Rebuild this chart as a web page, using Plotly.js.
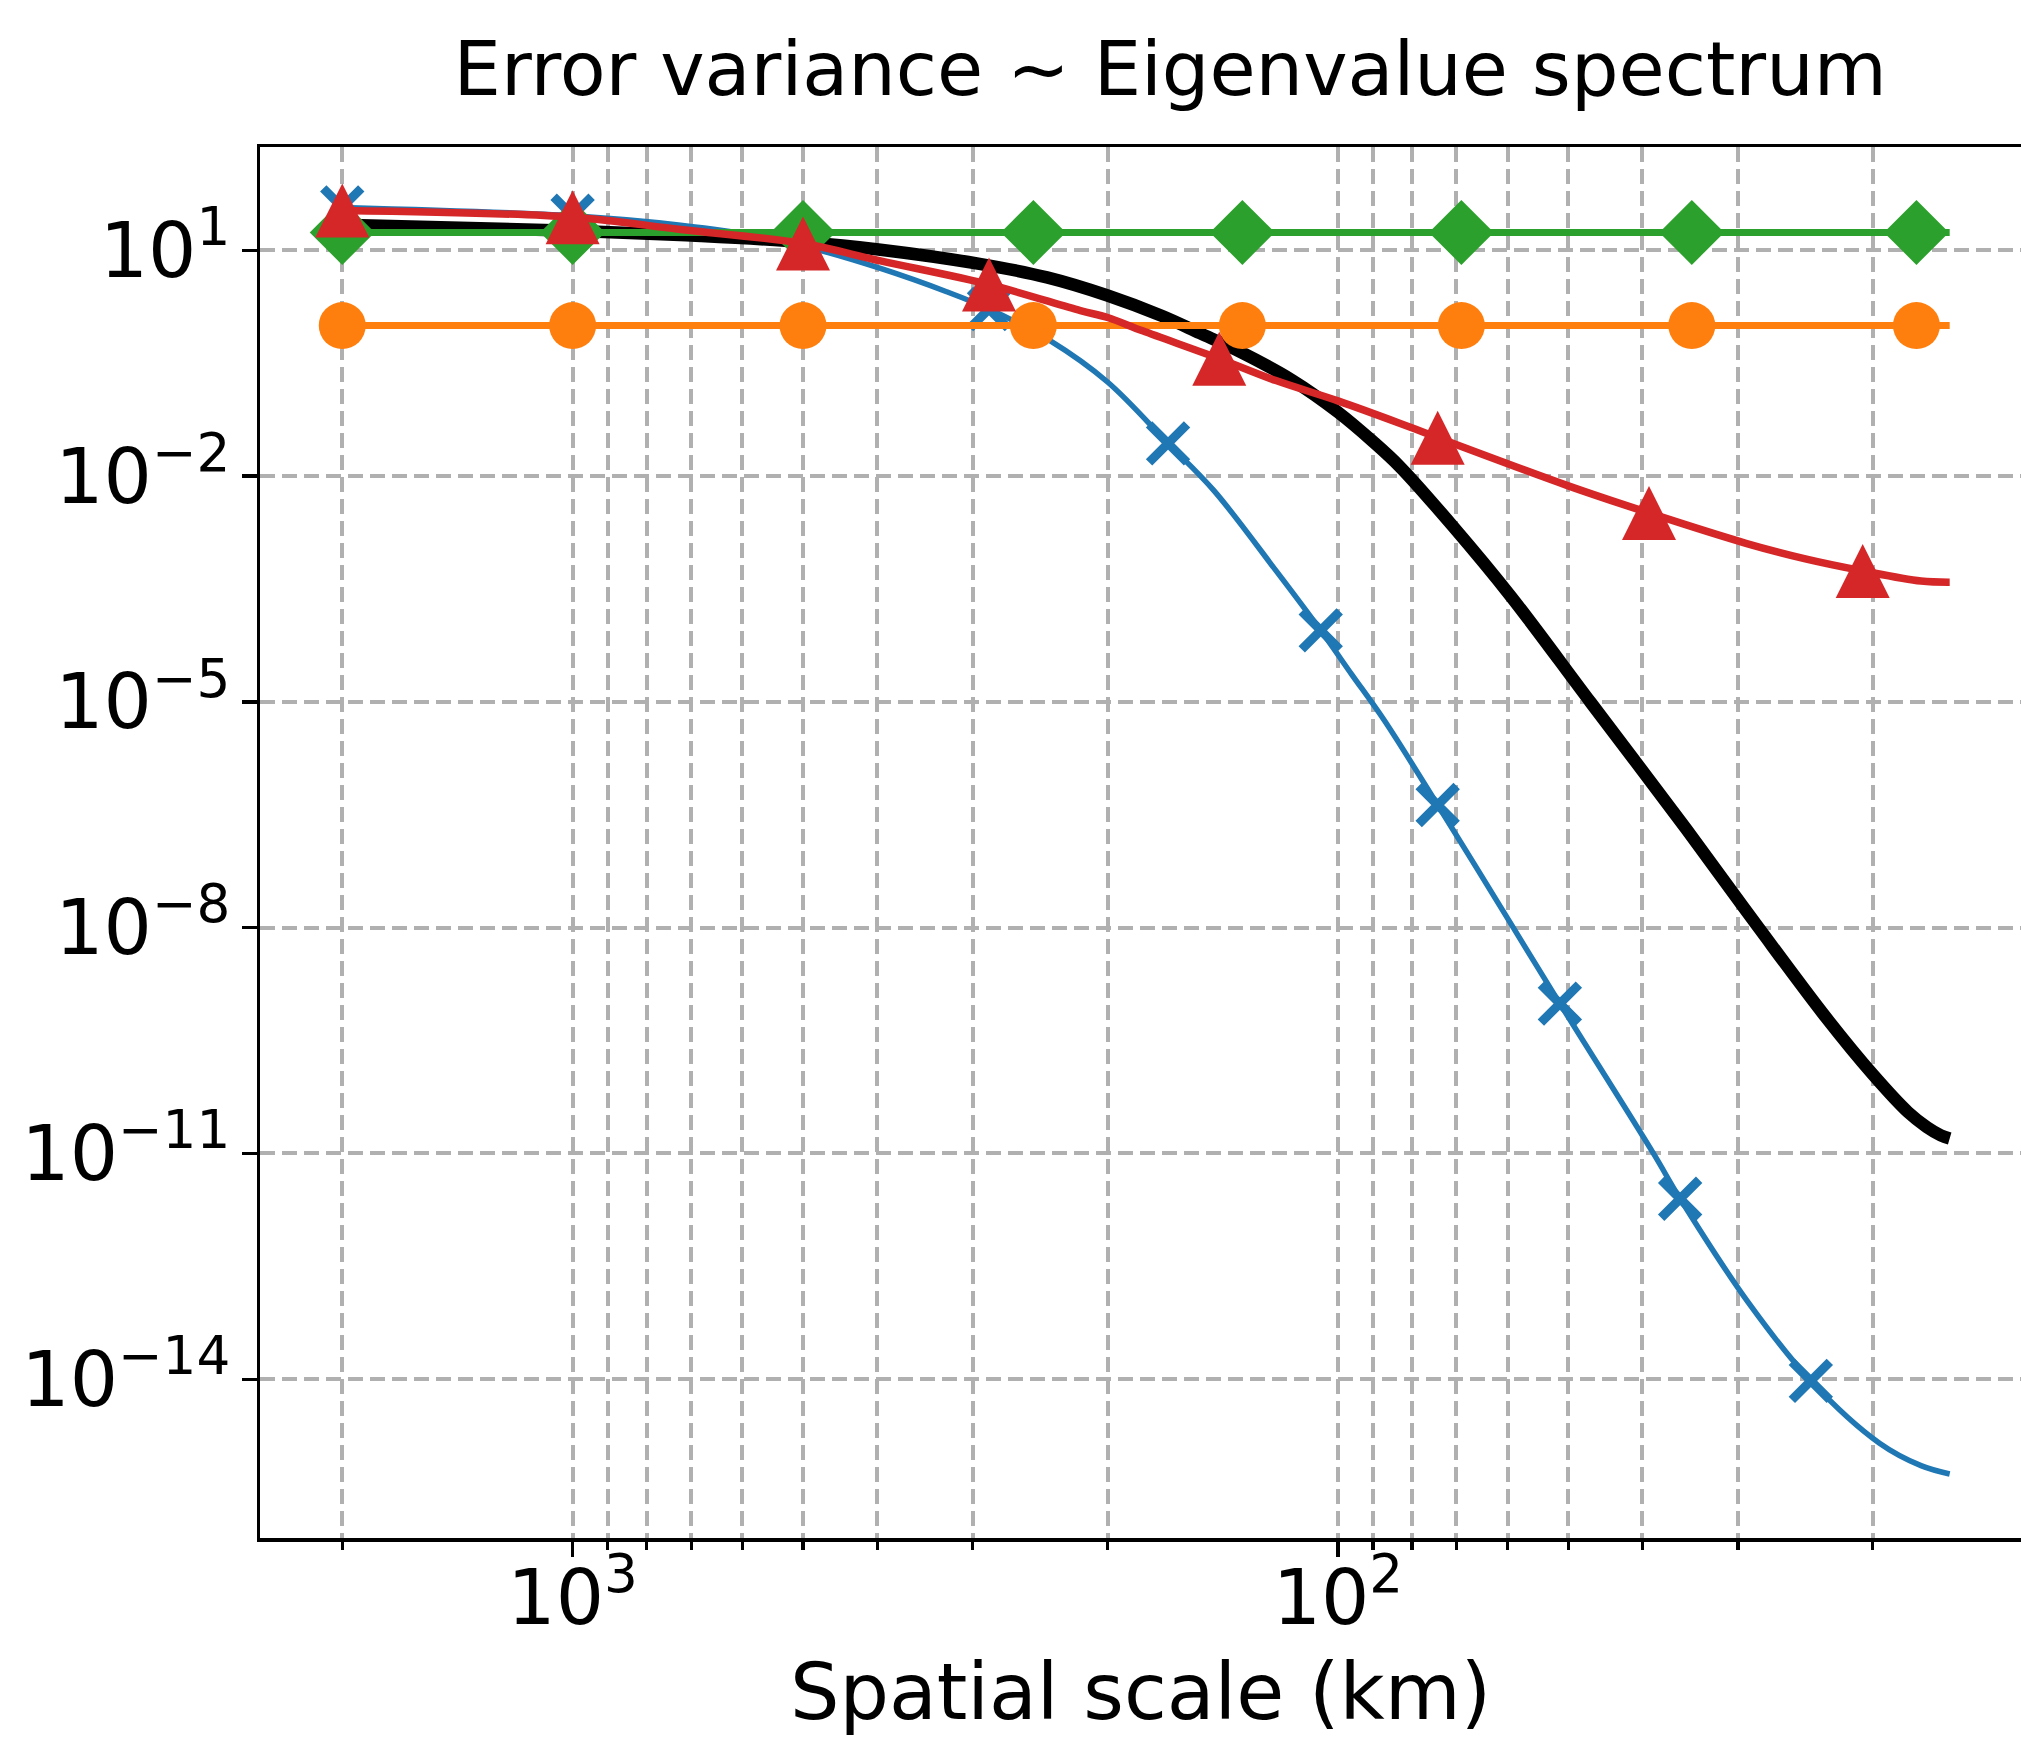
<!DOCTYPE html>
<html>
<head>
<meta charset="utf-8">
<script src="https://cdn.plot.ly/plotly-3.0.1.min.js"></script>
<style>html,body{margin:0;padding:0;background:#fff;} #chart{width:2021px;height:1737px;}</style>
</head>
<body>
<div id="chart"></div>
<script>
// ---- data (x = spatial scale in km, y = error variance) ----
const blackScale = [2000, 1000, 680, 500, 396, 294, 240, 200, 170, 151.5, 133.5, 115, 100, 90, 82.9, 70.85, 59.4, 46.8, 35, 28.2, 23, 20, 18, 17, 16.3, 15.87];
const blackValue = [21.9, 18.2, 15.5, 12.9, 10.2, 6.61, 4.37, 2.51, 1.35, 0.794, 0.437, 0.191, 0.0708, 0.0288, 0.0132, 2.19e-3, 2.51e-4, 1.0e-5, 2.0e-7, 1.0e-8, 6.31e-10, 1.12e-10, 3.55e-11, 2.24e-11, 1.74e-11, 1.58e-11];

const blueScale = [2000, 1000, 722.6, 563.6, 500, 396, 324.6, 285.7, 237.8, 200, 166.7, 145.3, 120, 105.3, 96, 86.9, 74.07, 59, 51.28, 38.7, 35.71, 29, 24.10, 19.6, 17.3, 15.87];
const blueValue = [37.2, 28.8, 21.6, 15.1, 11.5, 5.75, 2.82, 1.66, 0.631, 0.178, 0.0272, 6.46e-3, 5.25e-4, 8.9e-5, 2.34e-5, 5.6e-6, 4.27e-7, 1.0e-8, 9.8e-10, 1.0e-11, 2.5e-12, 1.0e-13, 9.5e-15, 1.41e-15, 7.1e-16, 5.5e-16];
const blueMarkerScale = [2000, 1000, 285.7, 166.7, 105.3, 74.07, 51.28, 35.71, 24.10];

const redScale = [2000, 1000, 722.6, 500, 396, 285.7, 217, 200, 180, 142.9, 120.5, 100, 82.9, 74.07, 50, 39.22, 29.3, 24.5, 20.62, 17.3, 15.87];
const redValue = [33.9, 27.5, 18.9, 12.3, 7.24, 3.52, 1.58, 1.28, 0.851, 0.363, 0.186, 0.1, 0.0501, 0.0324, 7.41e-3, 3.24e-3, 1.28e-3, 7.94e-4, 5.5e-4, 4.03e-4, 3.89e-4];
const redMarkerScale = [2000, 1000, 500, 285.7, 142.9, 74.07, 39.22, 20.62];

const flatScale = [2000, 1000, 500, 250, 133.3, 68.97, 34.48, 17.54, 15.87];
const orangeValue = [1, 1, 1, 1, 1, 1, 1, 1, 1];
const greenValue = [17.3, 17.3, 17.3, 17.3, 17.3, 17.3, 17.3, 17.3, 17.3];
const flatMarkerScale = [2000, 1000, 500, 250, 133.3, 68.97, 34.48, 17.54];

// ---- ticks ----
const xTickVals = [1000, 100];
const xTickText = ['10<sup>3</sup>', '10<sup>2</sup>'];
const xMinorVals = [2000, 900, 800, 700, 600, 500, 400, 300, 200, 90, 80, 70, 60, 50, 40, 30, 20];
const yTickVals = [1e1, 1e-2, 1e-5, 1e-8, 1e-11, 1e-14];
const yTickText = ['10<sup>1</sup>', '10<sup>−2</sup>', '10<sup>−5</sup>', '10<sup>−8</sup>', '10<sup>−11</sup>', '10<sup>−14</sup>'];

const C = {blue: '#1f77b4', orange: '#ff7f0e', green: '#2ca02c', red: '#d62728', black: '#000000'};

// ---- geometry ----
const W = 2021, H = 1737;
const M = {l: 260, r: 0, t: 147, b: 199};
const yRange = [-16.11, 2.373];
const pxPerDecade = (H - M.t - M.b) / (yRange[1] - yRange[0]);
const triSize = 54;                       // 'arrow-up' is a triangle with its apex on the point
const triShift = (triSize / 2) / pxPerDecade; // lift it by half its height so it is centred

function pick(scales, values, marks) {
  return marks.map(m => values[scales.indexOf(m)]);
}
function lineTrace(x, y, color, width) {
  return {x: x, y: y, mode: 'lines', type: 'scatter', hoverinfo: 'skip', showlegend: false,
          line: {color: color, width: width, shape: 'spline', smoothing: 1}};
}
function markTrace(x, y, marker, yaxis) {
  return {x: x, y: y, mode: 'markers', type: 'scatter', hoverinfo: 'skip', showlegend: false,
          cliponaxis: false, marker: marker, yaxis: yaxis || 'y'};
}

const traces = [
  lineTrace(blackScale, blackValue, C.black, 12.5),
  lineTrace(blueScale, blueValue, C.blue, 5.5),
  markTrace(blueMarkerScale, pick(blueScale, blueValue, blueMarkerScale),
            {symbol: 'x-thin', size: 38, color: C.blue, line: {color: C.blue, width: 9}}),
  lineTrace(flatScale, orangeValue, C.orange, 7),
  markTrace(flatMarkerScale, pick(flatScale, orangeValue, flatMarkerScale),
            {symbol: 'circle', size: 47, color: C.orange, line: {width: 0}}),
  lineTrace(flatScale, greenValue, C.green, 7),
  markTrace(flatMarkerScale, pick(flatScale, greenValue, flatMarkerScale),
            {symbol: 'diamond', size: 50, color: C.green, line: {width: 0}}),
  lineTrace(redScale, redValue, C.red, 7.5),
  markTrace(redMarkerScale, pick(redScale, redValue, redMarkerScale),
            {symbol: 'arrow-up', size: triSize, color: C.red, line: {width: 0}}, 'y2')
];

const gridStyle = {gridcolor: '#b0b0b0', gridwidth: 4, griddash: '15px,7px'};

const layout = {
  width: W, height: H,
  margin: {l: M.l, r: M.r, t: M.t, b: M.b, pad: 0},
  paper_bgcolor: '#ffffff', plot_bgcolor: '#ffffff',
  font: {family: 'DejaVu Sans', color: '#000000', size: 76},
  showlegend: false,
  title: {text: 'Error variance ~ Eigenvalue spectrum', font: {family: 'DejaVu Sans', size: 75, color: '#000'},
          xref: 'container', yref: 'container', x: 0.579, xanchor: 'center', y: 0.9604, yanchor: 'middle'},
  xaxis: {
    type: 'log', range: [3.4085, 1.1074], autorange: false,
    tickmode: 'array', tickvals: xTickVals, ticktext: xTickText,
    ticks: 'outside', ticklen: 15, tickwidth: 3.3, tickcolor: '#000',
    ticklabelstandoff: -24,
    tickfont: {family: 'DejaVu Sans', size: 76, color: '#000'},
    showline: true, linecolor: '#000', linewidth: 3.5, mirror: true,
    showgrid: true, gridcolor: gridStyle.gridcolor, gridwidth: gridStyle.gridwidth, griddash: gridStyle.griddash,
    zeroline: false,
    minor: {tickmode: 'array', tickvals: xMinorVals, ticks: 'outside', ticklen: 8, tickwidth: 3.3, tickcolor: '#000',
            showgrid: true, gridcolor: gridStyle.gridcolor, gridwidth: gridStyle.gridwidth, griddash: gridStyle.griddash},
    title: {text: 'Spatial scale (km)', font: {family: 'DejaVu Sans', size: 78, color: '#000'}, standoff: 54}
  },
  yaxis: {
    type: 'log', range: yRange, autorange: false,
    tickmode: 'array', tickvals: yTickVals, ticktext: yTickText,
    ticks: 'outside', ticklen: 15, tickwidth: 3.3, tickcolor: '#000',
    ticklabelstandoff: -4,
    tickfont: {family: 'DejaVu Sans', size: 76, color: '#000'},
    showline: true, linecolor: '#000', linewidth: 3.5, mirror: false,
    showgrid: true, gridcolor: gridStyle.gridcolor, gridwidth: gridStyle.gridwidth, griddash: gridStyle.griddash,
    zeroline: false
  },
  yaxis2: {
    type: 'log', overlaying: 'y', range: [yRange[0] - triShift, yRange[1] - triShift], autorange: false,
    visible: false, showgrid: false, zeroline: false
  }
};

Plotly.newPlot('chart', traces, layout, {staticPlot: true, displayModeBar: false});
</script>
</body>
</html>
